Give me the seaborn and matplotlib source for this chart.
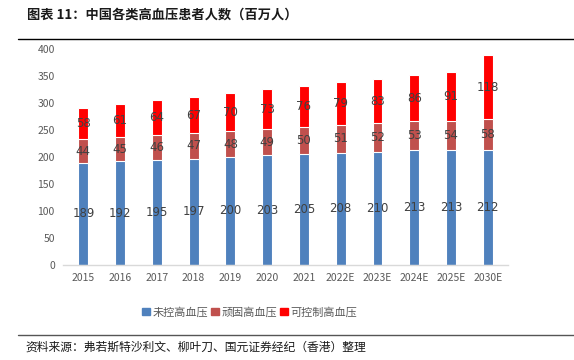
import numpy as np
import pandas as pd
import matplotlib
matplotlib.use("Agg")
import matplotlib.pyplot as plt
from matplotlib.patches import Patch
import seaborn as sns

# data
years = ["2015", "2016", "2017", "2018", "2019", "2020", "2021",
         "2022E", "2023E", "2024E", "2025E", "2030E"]
uncontrolled = [189, 192, 195, 197, 200, 203, 205, 208, 210, 213, 213, 212]
resistant = [44, 45, 46, 47, 48, 49, 50, 51, 52, 53, 54, 58]
controllable = [58, 61, 64, 67, 70, 73, 76, 79, 83, 86, 91, 118]
series_names = ["未控高血压", "顽固高血压", "可控制高血压"]
colors = ["#4f81bd", "#c0504d", "#ff0000"]

sns.set_theme(style="white")
plt.rcParams['font.family'] = ['Noto Sans CJK SC', 'DejaVu Sans']

df = pd.DataFrame({"year": years, "a": uncontrolled, "b": resistant, "c": controllable})
df["ab"] = df["a"] + df["b"]
df["abc"] = df["ab"] + df["c"]

fig = plt.figure(figsize=(5.74, 3.6), dpi=100)
ax = fig.add_axes([0.11, 0.264, 0.775, 0.6])

# layered totals to get the stack
for col, c in zip(["abc", "ab", "a"], colors[::-1]):
    sns.barplot(data=df, x="year", y=col, color=c, width=0.27,
                edgecolor="white", linewidth=0.8, saturation=1, ax=ax)

# value labels
for i in range(len(years)):
    a, b, c = uncontrolled[i], resistant[i], controllable[i]
    for val, mid in [(a, a / 2), (b, a + b / 2), (c, a + b + c / 2)]:
        ax.text(i, mid, str(val), ha="center", va="center", fontsize=8.5,
                color="#404040", family=['DejaVu Sans'])

ax.set_ylim(0, 400)
ax.set_yticks(range(0, 401, 50))
ax.set_xlim(-0.55, len(years) - 0.45)
ax.set_xlabel("")
ax.set_ylabel("")
ax.tick_params(axis="both", labelsize=7.5, colors="#595959", length=0, pad=6)
for s in ["top", "right", "left"]:
    ax.spines[s].set_visible(False)
ax.spines["bottom"].set_color("#d9d9d9")
ax.spines["bottom"].set_linewidth(1)

# legend
handles = [Patch(color=c, label=n) for c, n in zip(colors, series_names)]
fig.legend(handles=handles, loc="center", bbox_to_anchor=(0.435, 0.133), ncol=3,
           frameon=False, fontsize=8, handlelength=0.7, handleheight=0.7,
           handletextpad=0.2, columnspacing=0.3, labelcolor="#595959")

# title and source
fig.text(0.047, 0.958, "图表 11：中国各类高血压患者人数（百万人）", fontsize=9.5,
         fontweight="bold", va="center", color="#1a1a1a")
fig.add_artist(plt.Line2D([0.031, 1.0], [0.892, 0.892], color="black", lw=1))
fig.add_artist(plt.Line2D([0.031, 1.0], [0.07, 0.07], color="#555555", lw=1))
fig.text(0.045, 0.036, "资料来源：弗若斯特沙利文、柳叶刀、国元证券经纪（香港）整理",
         fontsize=8.5, style="italic", va="center", color="#1a1a1a")

fig.savefig("out.png", dpi=100)
